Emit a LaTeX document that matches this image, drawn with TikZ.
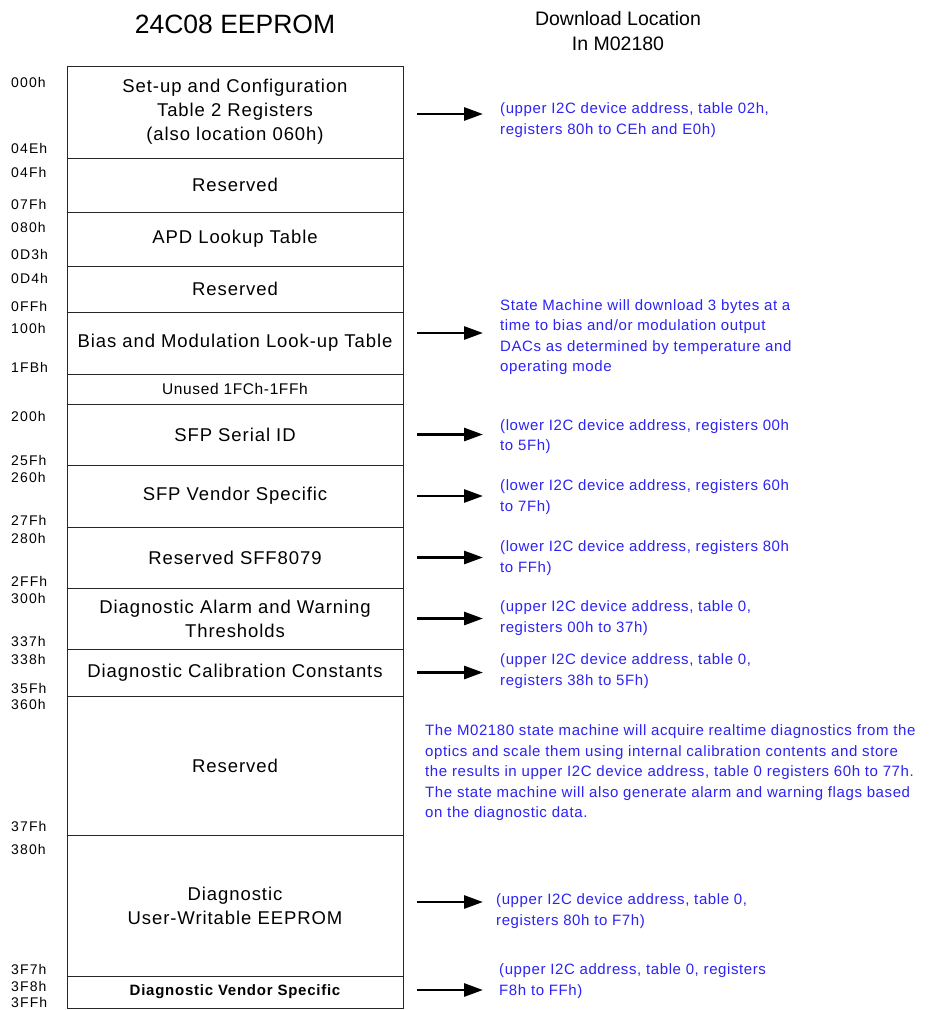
\documentclass[tikz,border=0pt]{standalone}
\usepackage{fontspec}
\setmainfont{Liberation Sans}
\usepackage{xcolor}
\usetikzlibrary{arrows.meta,positioning,calc}
\definecolor{dlblue}{RGB}{45,35,245}

\begin{document}
\begin{tikzpicture}[x=1pt,y=-1pt,
    cell/.style={draw=black!85,line width=0.9pt,minimum width=336pt,inner sep=0pt,
                 align=center,font=\fontsize{18.5}{24}\selectfont\addfontfeature{LetterSpace=5}},
    addr/.style={anchor=west,inner sep=0pt,font=\fontsize{14}{14}\selectfont\addfontfeature{LetterSpace=8}},
    note/.style={anchor=west,inner sep=0pt,align=left,text=dlblue,
                 font=\fontsize{15}{20.5}\selectfont\addfontfeature{LetterSpace=4}},
    dl/.style={-{Triangle[length=19pt,width=13pt]},line width=2.8pt,shorten <=14pt}]
  \fill[white] (0,0) rectangle (941,1010);
  \useasboundingbox (0,0) rectangle (941,1010);

  % headings
  \node[font=\fontsize{26.5}{30}\selectfont] (title) at (235,24.5) {24C08 EEPROM};
  \node[align=center,font=\fontsize{19.5}{25}\selectfont] (dlhead) at (618,31) {Download Location\\In M02180};

  % memory map
  \node[cell,minimum height=92pt] (setup) at (235,112) {Set-up and Configuration\\Table 2 Registers\\(also location 060h)};
  \node[cell,minimum height=54pt] (resA) at (235,185) {Reserved};
  \node[cell,minimum height=54pt] (apd) at (235,239) {APD Lookup Table};
  \node[cell,minimum height=46pt] (resB) at (235,289) {Reserved};
  \node[cell,minimum height=62pt] (bias) at (235,343) {Bias and Modulation Look-up Table};
  \node[cell,minimum height=30pt,font=\fontsize{15.5}{18}\selectfont\addfontfeature{LetterSpace=4}] (unused) at (235,389) {Unused 1FCh-1FFh};
  \node[cell,minimum height=61pt] (serial) at (235,434.5) {SFP Serial ID};
  \node[cell,minimum height=62pt] (vendor) at (235,496) {SFP Vendor Specific};
  \node[cell,minimum height=61pt] (sff) at (235,557.5) {Reserved SFF8079};
  \node[cell,minimum height=61pt] (alarm) at (235,618.5) {Diagnostic Alarm and Warning\\Thresholds};
  \node[cell,minimum height=47pt] (calib) at (235,672.5) {Diagnostic Calibration Constants};
  \node[cell,minimum height=139pt] (resC) at (235,765.5) {Reserved};
  \node[cell,minimum height=141pt] (user) at (235,905.5) {Diagnostic\\User-Writable EEPROM};
  \node[cell,minimum height=32pt,font=\bfseries\fontsize{15}{18}\selectfont\addfontfeature{LetterSpace=5}] (dvs) at (235,992) {Diagnostic Vendor Specific};

  % addresses
  \node[addr] (a000) at (11,82) {000h};
  \node[addr] (a04E) at (11,148.5) {04Eh};
  \node[addr] (a04F) at (11,172.5) {04Fh};
  \node[addr] (a07F) at (11,204) {07Fh};
  \node[addr] (a080) at (11,227) {080h};
  \node[addr] (a0D3) at (11,254) {0D3h};
  \node[addr] (a0D4) at (11,278) {0D4h};
  \node[addr] (a0FF) at (11,306) {0FFh};
  \node[addr] (a100) at (11,328.5) {100h};
  \node[addr] (a1FB) at (11,367) {1FBh};
  \node[addr] (a200) at (11,416) {200h};
  \node[addr] (a25F) at (11,460) {25Fh};
  \node[addr] (a260) at (11,477) {260h};
  \node[addr] (a27F) at (11,520) {27Fh};
  \node[addr] (a280) at (11,538) {280h};
  \node[addr] (a2FF) at (11,581) {2FFh};
  \node[addr] (a300) at (11,598) {300h};
  \node[addr] (a337) at (11,641) {337h};
  \node[addr] (a338) at (11,659) {338h};
  \node[addr] (a35F) at (11,688.5) {35Fh};
  \node[addr] (a360) at (11,704) {360h};
  \node[addr] (a37F) at (11,826) {37Fh};
  \node[addr] (a380) at (11,849) {380h};
  \node[addr] (a3F7) at (11,969) {3F7h};
  \node[addr] (a3F8) at (11,986.5) {3F8h};
  \node[addr] (a3FF) at (11,1002.5) {3FFh};

  % download locations
  \node[note] (nSetup) at (500,120) {(upper I2C device address, table 02h,\\registers 80h to CEh and E0h)};
  \node[note] (nBias) at (500,337) {State Machine will download 3 bytes at a\\time to bias and/or modulation output\\DACs as determined by temperature and\\operating mode};
  \node[note] (nSerial) at (500,436.5) {(lower I2C device address, registers 00h\\to 5Fh)};
  \node[note] (nVendor) at (500,497) {(lower I2C device address, registers 60h\\to 7Fh)};
  \node[note] (nSff) at (500,558) {(lower I2C device address, registers 80h\\to FFh)};
  \node[note] (nAlarm) at (500,618) {(upper I2C device address, table 0,\\registers 00h to 37h)};
  \node[note] (nCalib) at (500,671) {(upper I2C device address, table 0,\\registers 38h to 5Fh)};
  \node[note] (nDiag) at (425,773) {The M02180 state machine will acquire realtime diagnostics from the\\optics and scale them using internal calibration contents and store\\the results in upper I2C device address, table 0 registers 60h to 77h.\\The state machine will also generate alarm and warning flags based\\on the diagnostic data.};
  \node[note] (nUser) at (496,911) {(upper I2C device address, table 0,\\registers 80h to F7h)};
  \node[note] (nDvs) at (499,981) {(upper I2C address, table 0, registers\\F8h to FFh)};

  % arrows
  \draw[dl,shorten >=17pt] ([yshift=-2pt]setup.east) -- ([yshift=-2pt]setup.east -| nSetup.west);
  \draw[dl,shorten >=17pt] ([yshift=10pt]bias.east) -- ([yshift=10pt]bias.east -| nBias.west);
  \draw[dl,shorten >=17pt] (serial.east) -- (serial.east -| nSerial.west);
  \draw[dl,shorten >=17pt] (vendor.east) -- (vendor.east -| nVendor.west);
  \draw[dl,shorten >=17pt] (sff.east) -- (sff.east -| nSff.west);
  \draw[dl,shorten >=17pt] (alarm.east) -- (alarm.east -| nAlarm.west);
  \draw[dl,shorten >=17pt] (calib.east) -- (calib.east -| nCalib.west);
  \draw[dl,shorten >=13pt] ([yshift=3.5pt]user.east) -- ([yshift=3.5pt]user.east -| nUser.west);
  \draw[dl,shorten >=16pt] ([yshift=2pt]dvs.east) -- ([yshift=2pt]dvs.east -| nDvs.west);
\end{tikzpicture}
\end{document}
